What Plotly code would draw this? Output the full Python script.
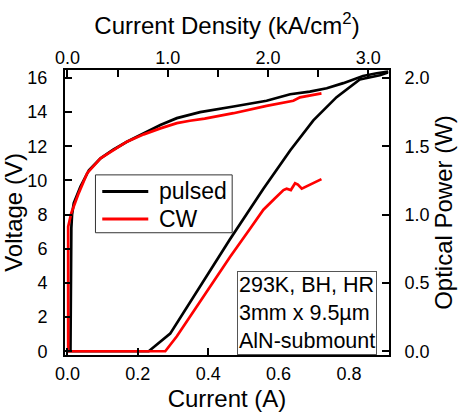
import plotly.graph_objects as go

# ---- data ----
cur_v_pulsed = [0.0085, 0.0095, 0.011, 0.013, 0.018, 0.037, 0.061, 0.094, 0.13, 0.169, 0.217,
                0.264, 0.311, 0.377, 0.472, 0.566, 0.633, 0.689, 0.737, 0.784, 0.84, 0.879, 0.912]
v_pulsed = [0.0, 4.0, 7.2, 8.0, 8.68, 9.65, 10.6, 11.3, 11.8, 12.27, 12.76,
             13.25, 13.65, 14.0, 14.33, 14.67, 15.05, 15.2, 15.4, 15.7, 16.12, 16.28, 16.37]

cur_v_cw = [0.002, 0.002, 0.011, 0.032, 0.056, 0.094, 0.169, 0.217, 0.264, 0.311, 0.348,
            0.39, 0.472, 0.566, 0.642, 0.661, 0.722]
v_cw = [0.0, 7.3, 8.1, 9.26, 10.43, 11.3, 12.27, 12.7, 13.05, 13.36, 13.5,
        13.62, 13.94, 14.37, 14.67, 14.87, 15.1]

cur_p_pulsed = [0.0, 0.231, 0.292, 0.38, 0.462, 0.557, 0.595, 0.633, 0.699, 0.765, 0.831, 0.888, 0.911]
p_pulsed = [0.0, 0.0, 0.129, 0.49, 0.82, 1.19, 1.33, 1.47, 1.69, 1.86, 1.99, 2.02, 2.04]

cur_p_cw = [0.0, 0.278, 0.311, 0.38, 0.462, 0.52, 0.557, 0.59, 0.614, 0.623, 0.635,
            0.647, 0.655, 0.666, 0.69, 0.722]
p_cw = [0.0, 0.0, 0.11, 0.375, 0.69, 0.9, 1.036, 1.12, 1.18, 1.19, 1.18,
        1.23, 1.22, 1.19, 1.22, 1.26]

series_names = ["pulsed", "CW"]
series_colors = ["#000000", "#ff0000"]

x_range = [-0.007, 0.914]       # current (A)
amp_per_kAcm2 = 0.285           # 3 mm x 9.5 um
v_range = [-0.22, 16.47]
w_per_volt = 1 / 8.0

note_text = "293K, BH, HR<br>3mm x 9.5µm<br>AlN-submount"

FONT = "Liberation Sans, Arial, sans-serif"
LINE_W = 2.7

fig = go.Figure()

for name, color, cx, cy in [(series_names[0], series_colors[0], cur_v_pulsed, v_pulsed),
                            (series_names[1], series_colors[1], cur_v_cw, v_cw)]:
    fig.add_trace(go.Scatter(x=cx, y=cy, mode="lines", name=name, legendgroup=name,
                             showlegend=False,
                             line=dict(color=color, width=LINE_W), xaxis="x", yaxis="y"))

for name, color, cx, cy in [(series_names[0], series_colors[0], cur_p_pulsed, p_pulsed),
                            (series_names[1], series_colors[1], cur_p_cw, p_cw)]:
    fig.add_trace(go.Scatter(x=cx, y=cy, mode="lines", name=name, legendgroup=name,
                             showlegend=False,
                             line=dict(color=color, width=LINE_W), xaxis="x", yaxis="y2"))

# invisible trace so the top (current density) axis is drawn
fig.add_trace(go.Scatter(x=[0.0], y=[0], mode="markers", marker=dict(opacity=0),
                         showlegend=False, hoverinfo="skip", xaxis="x2", yaxis="y"))

# ---- legend box (drawn in paper coordinates, compact like the reference) ----
leg_x0, leg_x1, leg_y0, leg_y1 = 0.094, 0.516, 0.429, 0.632
sample_x0, sample_x1, text_x = 0.115, 0.257, 0.285
item_y = [0.574, 0.477]
shapes = [dict(type="rect", xref="paper", yref="paper", x0=leg_x0, x1=leg_x1,
               y0=leg_y0, y1=leg_y1, line=dict(color="#333333", width=1),
               fillcolor="white", layer="above")]
annotations = []
for name, color, yy in zip(series_names, series_colors, item_y):
    shapes.append(dict(type="line", xref="paper", yref="paper", x0=sample_x0, x1=sample_x1,
                       y0=yy, y1=yy, line=dict(color=color, width=3), layer="above"))
    annotations.append(dict(text=name, xref="paper", yref="paper", x=text_x, y=yy,
                            xanchor="left", yanchor="middle", showarrow=False,
                            font=dict(size=23, color="black", family=FONT)))

annotations.append(dict(text=note_text, xref="paper", yref="paper", x=0.962, y=0.0,
                        xanchor="right", yanchor="bottom", align="left", showarrow=False,
                        bgcolor="white", bordercolor="#555555", borderwidth=1, borderpad=1,
                        font=dict(size=21.5, color="black", family=FONT)))

axis_common = dict(showline=True, linecolor="black", linewidth=2, ticks="inside",
                   ticklen=7, tickwidth=1.5, tickcolor="black", showgrid=False,
                   zeroline=False, automargin=False,
                   tickfont=dict(size=18, color="black", family=FONT),
                   title_font=dict(size=24, color="black", family=FONT))

fig.update_layout(
    width=460, height=414,
    margin=dict(l=64.5, r=70.7, t=70, b=58.5),
    paper_bgcolor="white", plot_bgcolor="white",
    font=dict(family=FONT, color="black"),
    showlegend=False,
    xaxis=dict(range=x_range, dtick=0.2, tick0=0, tickformat=".1f",
               title=dict(text="Current (A)", standoff=8), ticklabelstandoff=1,
               anchor="y", side="bottom", **axis_common),
    xaxis2=dict(range=[x_range[0] / amp_per_kAcm2, x_range[1] / amp_per_kAcm2],
                dtick=1, tick0=0, tickformat=".1f",
                minor=dict(dtick=0.5, tick0=0, ticks="inside", ticklen=7, tickwidth=1.5,
                           tickcolor="black", showgrid=False),
                title=dict(text="Current Density (kA/cm<sup>2</sup>)", standoff=6),
                ticklabelstandoff=-3, overlaying="x", side="top", anchor="y", **axis_common),
    yaxis=dict(range=v_range, dtick=2, tick0=0,
               title=dict(text="Voltage (V)", standoff=4), ticklabelstandoff=12,
               side="left", anchor="x", **axis_common),
    yaxis2=dict(range=[v_range[0] * w_per_volt, v_range[1] * w_per_volt], dtick=0.5, tick0=0,
                tickformat=".1f", title=dict(text="Optical Power (W)", standoff=4),
                ticklabelstandoff=10, overlaying="y", side="right", anchor="x", **axis_common),
    shapes=shapes,
    annotations=annotations,
)

fig.write_html("out.html", config={"displayModeBar": False},
               post_script="document.body.style.margin='0px';")
